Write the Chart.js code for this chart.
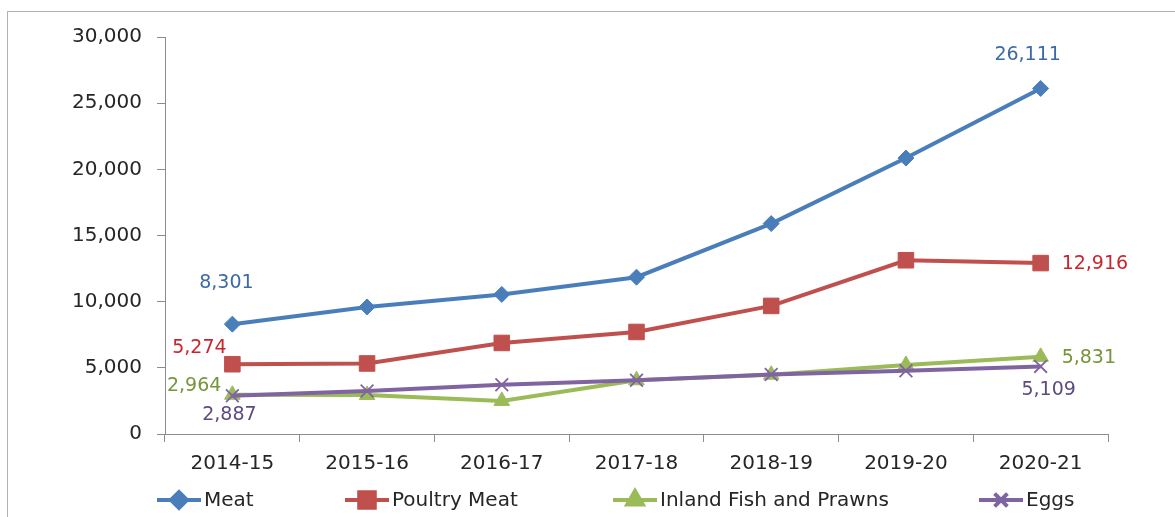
<!DOCTYPE html>
<html>
<head>
<meta charset="utf-8">
<script src="https://cdn.jsdelivr.net/npm/chart.js@4.4.0/dist/chart.umd.min.js"></script>
<style>
  html, body { margin: 0; padding: 0; background: #fff; }
  #wrap { position: relative; width: 1175px; height: 517px; overflow: hidden; }
  #frame { position: absolute; left: 7px; top: 11px; width: 1200px; height: 600px;
           border-left: 1.5px solid #b3b3b3; border-top: 1.5px solid #b3b3b3; box-sizing: border-box; }
  #c { position: absolute; left: 0; top: 0; }
</style>
</head>
<body>
<div id="wrap">
  <div id="frame"></div>
  <canvas id="c" width="1175" height="517"></canvas>
</div>
<script>
const categories = ["2014-15", "2015-16", "2016-17", "2017-18", "2018-19", "2019-20", "2020-21"];
const meat    = [8301, 9600, 10550, 11850, 15900, 20850, 26111];
const poultry = [5274, 5330, 6880, 7710, 9680, 13130, 12916];
const fish    = [2964, 2950, 2500, 4060, 4480, 5220, 5831];
const eggs    = [2887, 3250, 3720, 4060, 4500, 4780, 5109];
const seriesNames = ["Meat", "Poultry Meat", "Inland Fish and Prawns", "Eggs"];
const yTicks = [0, 5000, 10000, 15000, 20000, 25000, 30000];

const lineColors  = ["#4a7ebb", "#c0504d", "#9bbb59", "#8064a2"];
const labelColors = ["#3c6aa6", "#c8262c", "#77953a", "#5f4a80"];

// label placement for first/last points: [dx, dy, align]
const labelPlace = [
  [[-6, -41, "center"], [-13, -33, "center"]],
  [[-33, -16, "center"], [21, 1, "left"]],
  [[-11, -9, "right"], [21, 1, "left"]],
  [[-3, 19, "center"], [8, 24, "center"]]
];
const legendX = [157, 345, 613, 979];
const FONT = "'DejaVu Sans', 'Noto Sans', sans-serif";

function fmt(v) { return v.toLocaleString("en-US"); }

const dataLabelPlugin = {
  id: "dataLabels",
  afterDatasetsDraw(chart) {
    const ctx = chart.ctx;
    ctx.save();
    ctx.font = "19px " + FONT;
    ctx.textBaseline = "middle";
    chart.data.datasets.forEach((ds, di) => {
      const meta = chart.getDatasetMeta(di);
      const n = ds.data.length;
      [0, n - 1].forEach((idx, k) => {
        const pt = meta.data[idx];
        const p = labelPlace[di][k];
        ctx.fillStyle = labelColors[di];
        ctx.textAlign = p[2];
        ctx.fillText(fmt(ds.data[idx]), pt.x + p[0], pt.y + p[1]);
      });
    });
    ctx.restore();
  }
};

const legendPlugin = {
  id: "customLegend",
  afterDraw(chart) {
    const ctx = chart.ctx;
    const y = 500;
    ctx.save();
    chart.data.datasets.forEach((ds, di) => {
      const x0 = legendX[di];
      ctx.strokeStyle = lineColors[di];
      ctx.lineWidth = 4;
      ctx.beginPath();
      ctx.moveTo(x0, y); ctx.lineTo(x0 + 44, y);
      ctx.stroke();
      Chart.helpers.drawPoint(ctx, {
        pointStyle: ds.pointStyle, radius: ds.pointRadius, borderWidth: ds.pointBorderWidth || 1
      }, x0 + 22, y);
      ctx.fillStyle = ds.pointBackgroundColor;
      ctx.strokeStyle = ds.pointBorderColor;
      ctx.lineWidth = ds.pointBorderWidth || 1;
      ctx.beginPath();
      Chart.helpers.drawPoint(ctx, {
        pointStyle: ds.pointStyle, radius: ds.pointRadius, borderWidth: ds.pointBorderWidth || 1
      }, x0 + 22, y);
      ctx.fillStyle = "#262626";
      ctx.font = "20px " + FONT;
      ctx.textAlign = "left";
      ctx.textBaseline = "middle";
      ctx.fillText(seriesNames[di], x0 + 47, y + 1);
    });
    ctx.restore();
  }
};

const seriesData = [meat, poultry, fish, eggs];
const styles = [
  { pointStyle: "rectRot", pointRadius: 8, order: 3 },
  { pointStyle: "rect", pointRadius: 11, order: 2 },
  { pointStyle: "triangle", pointRadius: 9, order: 1 },
  { pointStyle: "crossRot", pointRadius: 9, order: 0 }
];

const datasets = seriesData.map((d, i) => ({
  label: seriesNames[i],
  data: d,
  borderColor: lineColors[i],
  backgroundColor: lineColors[i],
  pointBackgroundColor: lineColors[i],
  pointBorderColor: lineColors[i],
  pointBorderWidth: i === 3 ? 1.8 : 1,
  borderWidth: 4,
  tension: 0,
  pointStyle: styles[i].pointStyle,
  pointRadius: styles[i].pointRadius,
  pointHoverRadius: styles[i].pointRadius,
  order: styles[i].order
}));

new Chart(document.getElementById("c"), {
  type: "line",
  data: { labels: categories, datasets },
  plugins: [dataLabelPlugin, legendPlugin],
  options: {
    responsive: false,
    animation: false,
    events: [],
    layout: { padding: { left: 0, right: 67, top: 37, bottom: 0 } },
    plugins: { legend: { display: false }, tooltip: { enabled: false } },
    scales: {
      x: {
        type: "category",
        offset: true,
        grid: { offset: true, drawOnChartArea: false, drawTicks: true, tickLength: 8, color: "#8c8c8c", lineWidth: 1 },
        border: { color: "#8c8c8c", width: 1 },
        ticks: { color: "#262626", font: { family: FONT, size: 20 }, padding: 10, maxRotation: 0, autoSkip: false },
        afterFit(s) { s.height = 83; }
      },
      y: {
        min: 0, max: 30000,
        afterBuildTicks(s) { s.ticks = yTicks.map(v => ({ value: v })); },
        grid: { drawOnChartArea: false, drawTicks: true, tickLength: 8, color: "#8c8c8c", lineWidth: 1 },
        border: { color: "#8c8c8c", width: 1 },
        ticks: { color: "#262626", font: { family: FONT, size: 20 }, padding: 15, callback: v => fmt(v) },
        afterFit(s) { s.width = 165; }
      }
    }
  }
});
</script>
</body>
</html>
